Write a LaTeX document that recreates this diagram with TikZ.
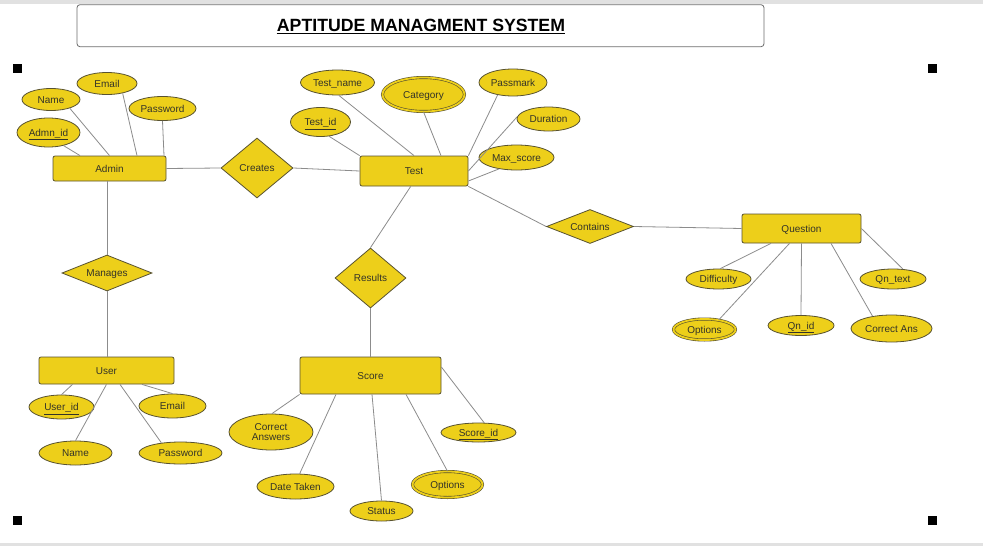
\documentclass[tikz,border=0pt]{standalone}
\usepackage{fontspec}
\setmainfont{Liberation Sans}
\usetikzlibrary{shapes.geometric}
\definecolor{yel}{RGB}{237,207,26}
\definecolor{bdr}{RGB}{88,82,48}
\definecolor{txt}{RGB}{51,51,40}
\definecolor{ln}{RGB}{140,140,140}
\definecolor{strip}{RGB}{225,225,225}
\definecolor{tbd}{RGB}{110,110,110}
\begin{document}
\begin{tikzpicture}[x=1pt,y=-1pt,
  every node/.style={font=\fontsize{10}{11}\selectfont, text=txt, inner sep=0pt},
  lbl/.style={text height=7.2pt, text depth=0pt},
  ent/.style 2 args={rectangle, lbl, draw=bdr, fill=yel, line width=0.8pt, rounded corners=2pt, minimum width=#1, minimum height=#2},
  attr/.style 2 args={ellipse, lbl, draw=bdr, fill=yel, line width=0.8pt, minimum width=#1, minimum height=#2},
  mattr/.style 2 args={ellipse, lbl, draw=bdr, fill=yel, line width=0.6pt, double=yel, double distance=1.8pt, minimum width=#1, minimum height=#2},
  rel/.style 2 args={diamond, lbl, aspect=2.5, draw=bdr, fill=yel, line width=0.8pt, minimum width=#1, minimum height=#2},
  conn/.style={draw=ln, line width=0.8pt},
  cmark/.style={fill=black, minimum size=9pt}
]
\useasboundingbox (0,0) rectangle (983,546);
\fill[white] (0,0) rectangle (983,546);
\fill[strip] (0,0) rectangle (983,4);
\fill[strip] (0,543) rectangle (983,546);

% corner marks
\node[cmark] (m1) at (17.5,68.5) {};
\node[cmark] (m2) at (932.5,68.5) {};
\node[cmark] (m3) at (17.5,520.5) {};
\node[cmark] (m4) at (932.5,520.5) {};

% title
\node[draw=tbd, fill=white, line width=0.8pt, rounded corners=3pt, minimum width=687, minimum height=42] (tbox) at (420.5,25.7) {};
\node[font=\fontsize{17.7}{20}\selectfont\bfseries, text=black] (title) at (421,25.4) {APTITUDE MANAGMENT SYSTEM};
\draw[line width=1.5pt, black] ([yshift=-1.6pt]title.south west) -- ([yshift=-1.6pt]title.south east);

% entities
\node[ent={113}{25}] (admin) at (109.5,168.5) {Admin};
\node[ent={108}{30}] (test) at (414,171) {Test};
\node[ent={119}{29}] (question) at (801.5,228.5) {Question};
\node[ent={135}{27}] (user) at (106.5,370.5) {User};
\node[ent={141}{37}] (score) at (370.5,375.5) {Score};

% relationships
\node[rel={72}{60}] (creates) at (257,168) {Creates};
\node[rel={90}{36}] (manages) at (107,273) {Manages};
\node[rel={71}{60}] (results) at (370.5,278) {Results};
\node[rel={87}{34}] (contains) at (590,226.5) {Contains};

% admin attributes
\node[attr={58}{22}] (aname) at (51,99.5) {Name};
\node[attr={60}{22}] (aemail) at (107,83.5) {Email};
\node[attr={67}{24}] (apass) at (162.5,108.5) {Password};
\node[attr={63}{29}] (aid) at (48.5,132.5) {\underline{Admn\_id}};

% test attributes
\node[attr={74}{25}] (tname) at (337.5,82.5) {Test\_name};
\node[mattr={82}{34}] (tcat) at (423.5,94.5) {Category};
\node[attr={68}{27}] (tpass) at (513,82.5) {Passmark};
\node[attr={60}{29}] (tid) at (320.5,122) {\underline{Test\_id}};
\node[attr={63}{24}] (tdur) at (548.5,119) {Duration};
\node[attr={75}{25}] (tmax) at (516.5,157.5) {Max\_score};

% question attributes
\node[attr={65}{20}] (qdiff) at (718.5,279) {Difficulty};
\node[attr={66}{20}] (qtext) at (893,279) {Qn\_text};
\node[mattr={62}{21}] (qopt) at (704.5,329.5) {Options};
\node[attr={66}{20}] (qid) at (801,325.5) {\underline{Qn\_id}};
\node[attr={81}{27}] (qans) at (891.5,328.5) {Correct Ans};

% user attributes
\node[attr={65}{24}] (uid) at (61.5,407) {\underline{User\_id}};
\node[attr={67}{24}] (uemail) at (172.5,406) {Email};
\node[attr={73}{24}] (uname) at (75.5,453) {Name};
\node[attr={83}{22}] (upass) at (180.5,453) {Password};

% score attributes
\node[ellipse, draw=bdr, fill=yel, line width=0.8pt, minimum width=84, minimum height=36, align=center, font=\fontsize{10}{10.5}\selectfont] (sans) at (271,432) {Correct\\Answers};
\node[attr={75}{19}] (sid) at (478.5,432.5) {\underline{Score\_id}};
\node[attr={77}{25}] (sdate) at (295.5,486.5) {Date Taken};
\node[attr={63}{20}] (sstat) at (381.5,511) {Status};
\node[mattr={70}{26}] (sopt) at (447.5,484.5) {Options};

% connectors: relationships
\draw[conn] (admin.east) -- (creates.west);
\draw[conn] (creates.east) -- (test.west);
\draw[conn] ([xshift=-2.5pt]admin.south) -- (manages.north);
\draw[conn] (manages.south) -- ([xshift=0.5pt]user.north);
\draw[conn] ([xshift=-3.3pt]test.south) -- (results.north);
\draw[conn] (results.south) -- (score.north);
\draw[conn] (test.south east) -- (contains.west);
\draw[conn] (contains.east) -- (question.west);

% admin attribute connectors
\draw[conn] (aname.-25) -- (admin.north);
\draw[conn] (aemail.-32) -- ([xshift=27.5pt]admin.north);
\draw[conn] (apass.south) -- ([xshift=54.5pt]admin.north);
\draw[conn] (aid.-41) -- ([xshift=-29.5pt]admin.north);

% test attribute connectors
\draw[conn] (tname.-84) -- (test.north);
\draw[conn] (tcat.south) -- ([xshift=27pt]test.north);
\draw[conn] (tpass.-141) -- (test.north east);
\draw[conn] (tdur.176) -- (test.east);
\draw[conn] (tmax.-147) -- ([yshift=-10pt]test.east);
\draw[conn] (tid.-59) -- (test.north west);

% question attribute connectors
\draw[conn] (qdiff.80) -- ([xshift=-30.5pt]question.south);
\draw[conn] (qopt.34) -- ([xshift=-12pt]question.south);
\draw[conn] (qid.north) -- (question.south);
\draw[conn] (qans.147) -- ([xshift=29.5pt]question.south);
\draw[conn] (qtext.45) -- (question.east);

% user attribute connectors
\draw[conn] (uid.north) -- ([xshift=-34pt]user.south);
\draw[conn] (uname.north) -- (user.south);
\draw[conn] (upass.152) -- ([xshift=13.5pt]user.south);
\draw[conn] (uemail.north) -- ([xshift=35.5pt]user.south);

% score attribute connectors
\draw[conn] (sans.87) -- (score.south west);
\draw[conn] (sdate.72) -- ([xshift=-34.5pt]score.south);
\draw[conn] (sstat.north) -- ([xshift=1.5pt]score.south);
\draw[conn] (sopt.north) -- ([xshift=35.5pt]score.south);
\draw[conn] (sid.60) -- ([yshift=8.5pt]score.east);
\end{tikzpicture}
\end{document}
